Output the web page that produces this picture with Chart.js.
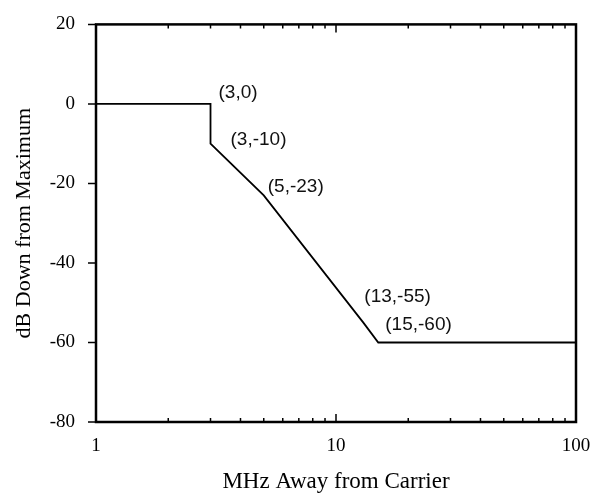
<!DOCTYPE html>
<html>
<head>
<meta charset="utf-8">
<script src="https://cdn.jsdelivr.net/npm/chart.js@4"></script>
<style>
  html, body { margin: 0; padding: 0; background: #fff; }
  #wrap { width: 600px; height: 493px; }
</style>
</head>
<body>
<div id="wrap"><canvas id="mask"></canvas></div>
<script>
// spectral mask corner points
const offsetsMHz = [1, 3, 3, 5, 13, 15, 100];
const levelsDb = [0, 0, -10, -23, -55, -60, -60];

// corner labels and the point each one belongs to
const cornerLabels = ["(3,0)", "(3,-10)", "(5,-23)", "(13,-55)", "(15,-60)"];
const cornerIndex = [1, 2, 3, 4, 5];
const labelShift = [[8, -11], [20, -4], [4, -9], [1, -26], [7, -18]];

const xTicks = [1, 2, 3, 4, 5, 6, 7, 8, 9, 10, 20, 30, 40, 50, 60, 70, 80, 90, 100];
const xLabelled = [1, 10, 100];

const serif = "'Liberation Serif', 'Times New Roman', serif";
const sans = "'Liberation Sans', Arial, sans-serif";

// frame, tick marks and corner labels
const framePlugin = {
  id: "frame",
  afterDatasetsDraw(chart) {
    const { ctx, chartArea: a, scales } = chart;
    const x = scales.x, y = scales.y;
    ctx.save();
    ctx.strokeStyle = "#000";
    ctx.lineWidth = 2.5;
    ctx.strokeRect(a.left, a.top, a.right - a.left, a.bottom - a.top);

    ctx.lineWidth = 1.5;
    ctx.beginPath();
    xTicks.forEach((v) => {
      if (v === 1 || v === 100) return;
      const px = x.getPixelForValue(v);
      const len = xLabelled.includes(v) ? 8 : 4;
      ctx.moveTo(px, a.bottom);
      ctx.lineTo(px, a.bottom - len);
      ctx.moveTo(px, a.top);
      ctx.lineTo(px, a.top + len);
    });
    y.ticks.forEach((t) => {
      const py = y.getPixelForValue(t.value);
      ctx.moveTo(a.left - 8, py);
      ctx.lineTo(a.left, py);
    });
    ctx.stroke();

    ctx.fillStyle = "#111";
    ctx.font = "19px " + sans;
    ctx.textAlign = "left";
    ctx.textBaseline = "middle";
    cornerLabels.forEach((txt, i) => {
      const k = cornerIndex[i];
      const px = x.getPixelForValue(offsetsMHz[k]) + labelShift[i][0];
      const py = y.getPixelForValue(levelsDb[k]) + labelShift[i][1];
      ctx.fillText(txt, px, py);
    });
    ctx.restore();
  },
};

new Chart(document.getElementById("mask"), {
  type: "line",
  data: {
    datasets: [
      {
        data: offsetsMHz.map((v, i) => ({ x: v, y: levelsDb[i] })),
        borderColor: "#000",
        borderWidth: 1.8,
        pointRadius: 0,
        tension: 0,
        fill: false,
      },
    ],
  },
  options: {
    responsive: true,
    maintainAspectRatio: false,
    animation: false,
    layout: { padding: { top: 19, right: 24, left: 0, bottom: 0 } },
    plugins: { legend: { display: false }, tooltip: { enabled: false } },
    scales: {
      x: {
        type: "logarithmic",
        min: 1,
        max: 100,
        afterBuildTicks: (s) => {
          s.ticks = xTicks.map((v) => ({ value: v }));
        },
        afterFit: (s) => {
          s.height = 71;
        },
        grid: { display: false },
        border: { display: false },
        ticks: {
          autoSkip: false,
          maxRotation: 0,
          padding: 5,
          color: "#000",
          font: { family: serif, size: 19 },
          callback: (v) => (xLabelled.includes(v) ? String(v) : ""),
        },
        title: {
          display: true,
          text: "MHz Away from Carrier",
          color: "#000",
          font: { family: serif, size: 23, lineHeight: 1 },
          padding: { top: 0, bottom: 0 },
        },
      },
      y: {
        min: -80,
        max: 20,
        afterFit: (s) => {
          s.width = 96;
        },
        grid: { display: false },
        border: { display: false },
        ticks: {
          stepSize: 20,
          padding: 13,
          color: "#000",
          font: { family: serif, size: 19 },
        },
        title: {
          display: true,
          text: "dB Down from Maximum",
          color: "#000",
          font: { family: serif, size: 22, lineHeight: 1 },
          padding: { top: 13, bottom: 0 },
        },
      },
    },
  },
  plugins: [framePlugin],
});
</script>
</body>
</html>
